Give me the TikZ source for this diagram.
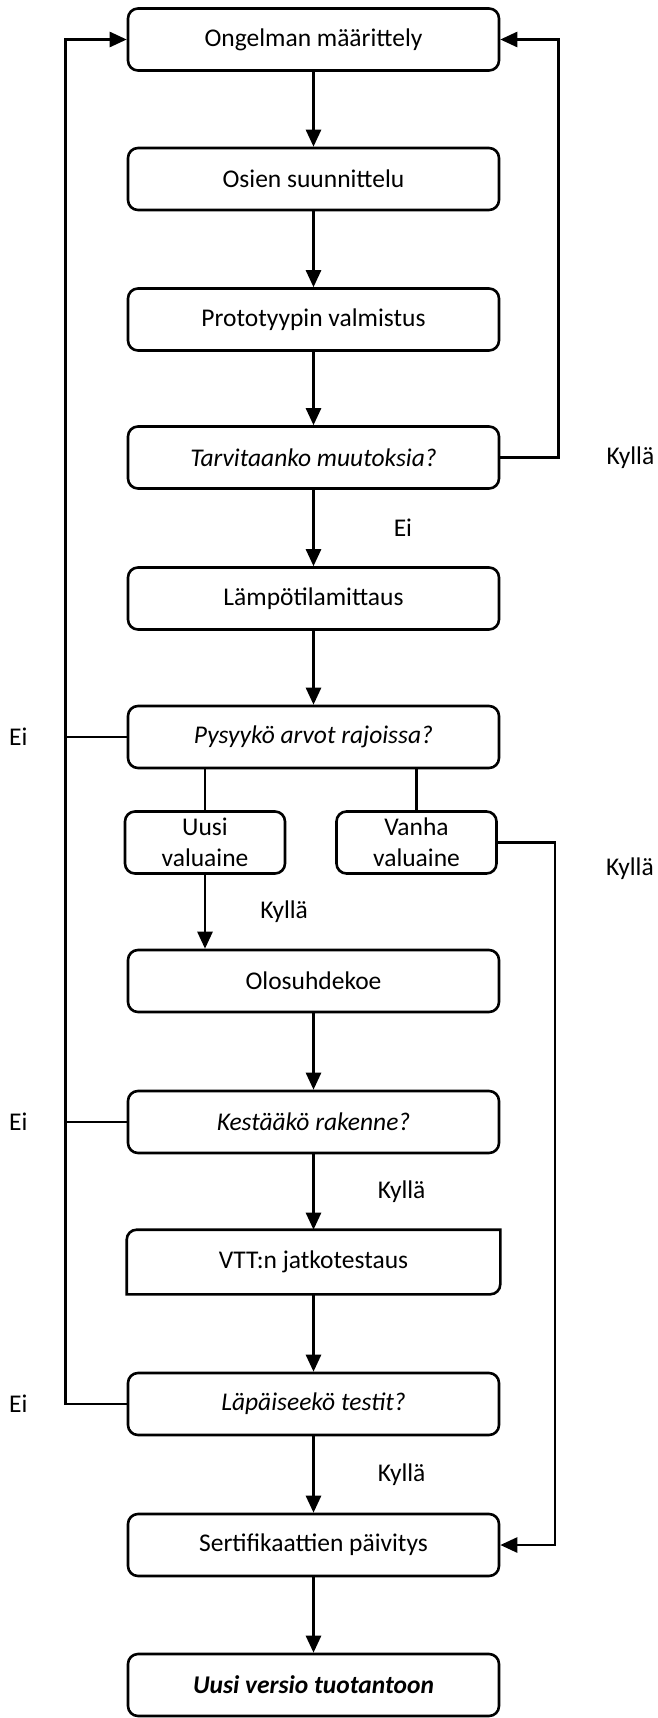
\documentclass[tikz,border=0pt]{standalone}
\usepackage{fontspec}
\setmainfont{Carlito}
\usetikzlibrary{arrows.meta,positioning}

\begin{document}
\begin{tikzpicture}[x=1pt,y=-1pt,
  font=\fontsize{25.5}{31}\selectfont,
  line width=2.6pt,
  box/.style={draw,rounded corners=10pt,minimum width=371pt,minimum height=62pt,inner sep=0pt,align=center},
  small/.style={box,minimum width=160pt},
  ask/.style={box,font=\fontsize{25.5}{31}\selectfont\itshape},
  lbl/.style={inner sep=0pt},
  arr/.style={-{Triangle[width=15pt,length=17pt]}}]
\useasboundingbox (0,0) rectangle (657,1718);

\node[box] (top) at (313.5,39.5) {Ongelman määrittely};
\node[box] (parts) at (313.5,179) {Osien suunnittelu};
\node[box] (proto) at (313.5,319.5) {Prototyypin valmistus};
\node[ask] (q1) at (313.5,457.5) {Tarvitaanko muutoksia?};
\node[box] (temp) at (313.5,598.5) {Lämpötilamittaus};
\node[ask] (q2) at (313.5,737) {Pysyykö arvot rajoissa?};
\node[small] (new) at (205,842.5) {Uusi\\valuaine};
\node[small] (old) at (416.5,842.5) {Vanha\\valuaine};
\node[box] (cond) at (313.5,981) {Olosuhdekoe};
\node[ask] (q3) at (313.5,1122) {Kestääkö rakenne?};
\node[box,draw=none] (vtt) at (313.5,1262) {VTT:n jatkotestaus};
\node[ask] (q4) at (313.5,1404) {Läpäiseekö testit?};
\node[box] (cert) at (313.5,1545) {Sertifikaattien päivitys};
\node[box,font=\fontsize{25.5}{31}\selectfont\bfseries\itshape] (prod) at (313.5,1685) {Uusi versio tuotantoon};

% VTT box has only two round corners
\draw (vtt.west) [rounded corners=10pt] -- (vtt.north west) [sharp corners] -- (vtt.north east)
  [rounded corners=10pt] -- (vtt.south east) [sharp corners] -- (vtt.south west) -- cycle;

\draw[arr] (top) -- (parts);
\draw[arr] (parts) -- (proto);
\draw[arr] (proto) -- (q1);
\draw[arr] (q1) -- node[lbl,right=79pt]{Ei} (temp);
\draw[arr] (q1.east) -- ++(58,0) node[lbl,right=47pt]{Kyllä} |- (top.east);
\draw[arr] (temp) -- (q2);

\draw (q2.south -| new) -- (new);
\draw (q2.south -| old) -- (old);
\draw[arr] (new) -- node[lbl,right=54pt]{Kyllä} (new |- cond.north);
\draw[arr] (old.east) -- ++(57,0) node[lbl,below right=14pt and 50pt]{Kyllä} |- (cert.east);

\draw[arr] (cond) -- (q3);
\draw[arr] (q3) -- node[lbl,right=63pt]{Kyllä} (vtt);
\draw[arr] (vtt) -- (q4);
\draw[arr] (q4) -- node[lbl,right=63pt]{Kyllä} (cert);
\draw[arr] (cert) -- (prod);

% back to the start
\draw (q2.west) -- ++(-61,0) node[lbl,left=37pt]{Ei};
\draw (q3.west) -- ++(-61,0) node[lbl,left=37pt]{Ei};
\draw[arr] (q4.west) -- ++(-61,0) node[lbl,left=37pt]{Ei} |- (top.west);
\end{tikzpicture}
\end{document}
